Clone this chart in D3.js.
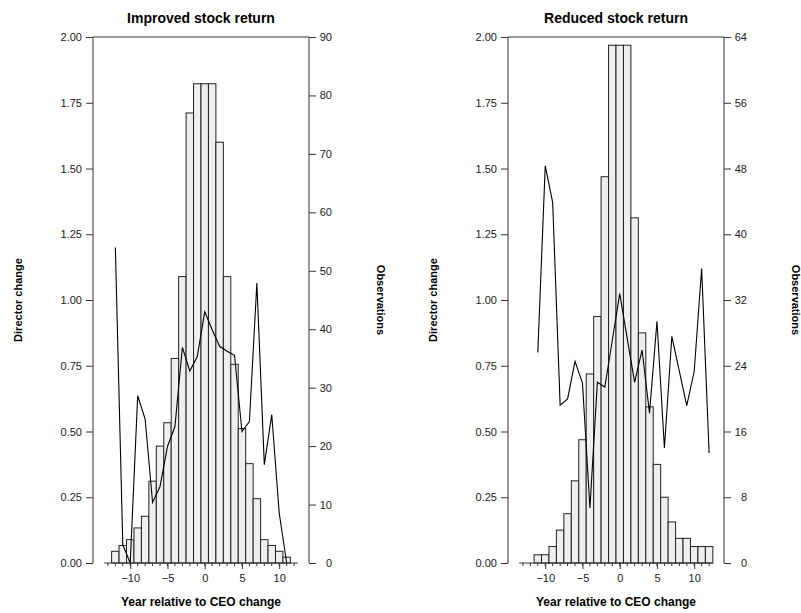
<!DOCTYPE html>
<html>
<head>
<meta charset="utf-8">
<script src="https://cdn.jsdelivr.net/npm/d3@7"></script>
<style>
  html, body { margin: 0; padding: 0; background: #fff; }
  text { font-family: "Liberation Sans", Arial, Helvetica, sans-serif; }
</style>
</head>
<body>
<svg id="chart" width="801" height="613"></svg>
<script>
// Years relative to the CEO change, per panel
const yearsImproved = [-12,-11,-10,-9,-8,-7,-6,-5,-4,-3,-2,-1,0,1,2,3,4,5,6,7,8,9,10,11];
const yearsReduced  = [-11,-10,-9,-8,-7,-6,-5,-4,-3,-2,-1,0,1,2,3,4,5,6,7,8,9,10,11,12];

// Number of observations (bars, right axis)
const obsImproved = [2,3,4,6,8,14,20,24,35,49,77,82,82,82,72,49,34,23,17,11,4,3,2,1];
const obsReduced  = [1,1,2,4,6,10,15,23,30,47,63,63,63,42,28,19,12,8,5,3,3,2,2,2];

// Director change (line, left axis)
const dirImproved = [1.20,0.07,0.00,0.636,0.547,0.230,0.291,0.443,0.519,0.82,0.73,0.785,
                     0.955,0.887,0.824,0.805,0.79,0.50,0.538,1.065,0.374,0.564,0.19,0.00];
const dirReduced  = [0.80,1.51,1.37,0.60,0.624,0.767,0.684,0.209,0.687,0.669,0.846,1.024,
                     0.855,0.687,0.81,0.57,0.919,0.437,0.862,0.73,0.598,0.729,1.12,0.418];

// Axis tick values
const dirTicks = [0,0.25,0.5,0.75,1,1.25,1.5,1.75,2];
const obsTicksImproved = [0,10,20,30,40,50,60,70,80,90];
const obsTicksReduced  = [0,8,16,24,32,40,48,56,64];
const yearMajorTicks = [-10,-5,0,5,10];
const yearMinorTicks = d3.range(-13, 13);

const panelTitles = ["Improved stock return", "Reduced stock return"];
const xTitle = "Year relative to CEO change";
const leftTitle = "Director change";
const rightTitle = "Observations";

const svg = d3.select("#chart");
const plotTop = 37, plotBottom = 563;
const axisColor = "#333";

function drawPanel(left, right, title, years, obs, dir, obsMax, obsTicks) {
  const x = d3.scaleLinear().domain([-15, 14]).range([left, right]);
  const yDir = d3.scaleLinear().domain([0, 2]).range([plotBottom, plotTop]);
  const yObs = d3.scaleLinear().domain([0, obsMax]).range([plotBottom, plotTop]);
  const g = svg.append("g");

  // Frame: top, left and right sides
  g.append("path")
    .attr("d", `M${left},${plotBottom}V${plotTop}H${right}V${plotBottom}`)
    .attr("fill", "none").attr("stroke", axisColor).attr("stroke-width", 1);

  // Histogram of observations
  g.selectAll("rect.bar").data(years.map((yr, i) => ({yr, n: obs[i]})))
    .join("rect").attr("class", "bar")
    .attr("x", d => x(d.yr - 0.5))
    .attr("width", d => x(d.yr + 0.5) - x(d.yr - 0.5))
    .attr("y", d => yObs(d.n))
    .attr("height", d => yObs(0) - yObs(d.n))
    .attr("fill", "#efefef").attr("stroke", "#222").attr("stroke-width", 1);

  // Director change line
  const line = d3.line().x((d, i) => x(years[i])).y(d => yDir(d));
  g.append("path").datum(dir)
    .attr("d", line)
    .attr("fill", "none").attr("stroke", "#000").attr("stroke-width", 1.1);

  // Left axis (director change)
  const leftAxis = d3.axisLeft(yDir).tickValues(dirTicks)
    .tickFormat(d3.format(".2f")).tickSize(7).tickPadding(4);
  const la = g.append("g").attr("transform", `translate(${left},0)`).call(leftAxis);
  la.select(".domain").remove();

  // Right axis (observations), labels right-aligned
  const rightAxis = d3.axisRight(yObs).tickValues(obsTicks).tickSize(7).tickPadding(16);
  const ra = g.append("g").attr("transform", `translate(${right},0)`).call(rightAxis);
  ra.select(".domain").remove();
  ra.selectAll(".tick text").attr("text-anchor", "end");

  // Bottom axis: minor ticks every year, labelled majors every five
  const bx = g.append("g").attr("transform", `translate(0,${plotBottom})`);
  bx.append("line")
    .attr("x1", x(-13.5)).attr("x2", x(12.5))
    .attr("stroke", axisColor).attr("stroke-width", 1.2);
  bx.selectAll("line.minor").data(yearMinorTicks).join("line").attr("class", "minor")
    .attr("x1", d => x(d)).attr("x2", d => x(d)).attr("y1", 0).attr("y2", 3)
    .attr("stroke", axisColor);
  const bottomAxis = d3.axisBottom(x).tickValues(yearMajorTicks).tickSize(6).tickPadding(5);
  const ba = bx.append("g").call(bottomAxis);
  ba.select(".domain").remove();

  [la, ra, ba].forEach(a => {
    a.selectAll(".tick line").attr("stroke", axisColor);
    a.selectAll(".tick text").attr("font-size", 11).attr("fill", "#222")
      .attr("font-family", "'Liberation Sans', Arial, sans-serif");
  });

  // Titles
  const cx = (left + right) / 2;
  g.append("text").attr("x", cx).attr("y", 23).attr("text-anchor", "middle")
    .attr("font-size", 14).attr("font-weight", "bold").text(title);
  g.append("text").attr("x", cx).attr("y", 606).attr("text-anchor", "middle")
    .attr("font-size", 12).attr("font-weight", "bold").text(xTitle);
  const midY = (plotTop + plotBottom) / 2;
  g.append("text")
    .attr("transform", `translate(${left - 71},${midY}) rotate(-90)`)
    .attr("text-anchor", "middle").attr("font-size", 11).attr("font-weight", "bold")
    .text(leftTitle);
  g.append("text")
    .attr("transform", `translate(${right + 68},${midY}) rotate(90)`)
    .attr("text-anchor", "middle").attr("font-size", 11).attr("font-weight", "bold")
    .text(rightTitle);
}

drawPanel(93, 309, panelTitles[0], yearsImproved, obsImproved, dirImproved, 90, obsTicksImproved);
drawPanel(508, 724, panelTitles[1], yearsReduced, obsReduced, dirReduced, 64, obsTicksReduced);
</script>
</body>
</html>
